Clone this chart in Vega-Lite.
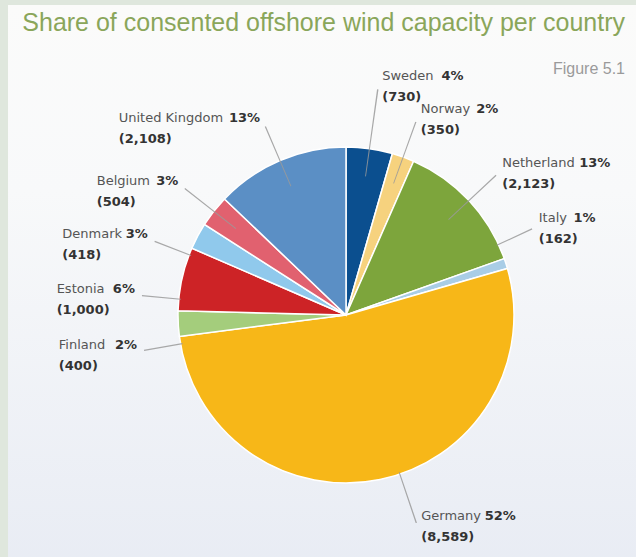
{
  "$schema": "https://vega.github.io/schema/vega-lite/v6.json",
  "width": 676,
  "height": 620,
  "autosize": {"type": "none"},
  "padding": {"left": 8, "top": 5, "right": 0, "bottom": 0},
  "background": "#dfe7dd",
  "config": {
    "view": {"stroke": null},
    "text": {"font": "DejaVu Sans", "fontSize": 13}
  },
  "title": {
    "text": "Share of consented offshore wind capacity per country",
    "subtitle": "Figure 5.1\u00a0\u00a0",
    "anchor": "end",
    "orient": "top",
    "offset": -72,
    "dx": -59,
    "font": "Liberation Sans",
    "fontSize": 25,
    "fontWeight": "normal",
    "color": "#8aa65a",
    "subtitleFont": "Liberation Sans",
    "subtitleFontSize": 16,
    "subtitleColor": "#9a9a9a",
    "subtitlePadding": 25
  },
  "layer": [
    {
      "data": {"values": [{}]},
      "mark": {"type": "rect", "fill": {"gradient": "linear", "x1": 0, "y1": 0, "x2": 0, "y2": 1, "stops": [{"offset": 0, "color": "#fbfbfa"}, {"offset": 0.3, "color": "#f8f9fa"}, {"offset": 1, "color": "#e6eaf3"}]}},
      "encoding": {
        "x": {"value": 0}, "x2": {"value": "width"},
        "y": {"value": 0}, "y2": {"value": "height"}
      }
    },
    {
      "data": {
        "values": [
          {"order": 1, "country": "Sweden", "value": 730, "pct": "4%"},
          {"order": 2, "country": "Norway", "value": 350, "pct": "2%"},
          {"order": 3, "country": "Netherland", "value": 2123, "pct": "13%"},
          {"order": 4, "country": "Italy", "value": 162, "pct": "1%"},
          {"order": 5, "country": "Germany", "value": 8589, "pct": "52%"},
          {"order": 6, "country": "Finland", "value": 400, "pct": "2%"},
          {"order": 7, "country": "Estonia", "value": 1000, "pct": "6%"},
          {"order": 8, "country": "Denmark", "value": 418, "pct": "3%"},
          {"order": 9, "country": "Belgium", "value": 504, "pct": "3%"},
          {"order": 10, "country": "United Kingdom", "value": 2108, "pct": "13%"}
        ]
      },
      "transform": [
        {"joinaggregate": [{"op": "sum", "field": "value", "as": "total"}]},
        {"window": [{"op": "sum", "field": "value", "as": "cum"}], "sort": [{"field": "order"}], "frame": [null, 0]},
        {"calculate": "(datum.cum - datum.value) / datum.total", "as": "start"},
        {"calculate": "datum.cum / datum.total", "as": "end"},
        {"calculate": "(datum.start + datum.end) / 2", "as": "mid"},
        {"calculate": "(datum.mid > 0.19 && datum.mid < 0.84) ? -0.0194 : 0", "as": "shift"},
        {"calculate": "datum.mid + datum.shift", "as": "la"},
        {"calculate": "datum.la - 0.0005", "as": "m0"},
        {"calculate": "datum.la + 0.0005", "as": "m1"},
        {"calculate": "208 + 50 * pow(max(cos(2 * PI * datum.la), 0), 80) + 20 * pow(max(-cos(2 * PI * datum.la), 0), 6)", "as": "lr"},
        {"calculate": "datum.lr - 3", "as": "lr2"},
        {"calculate": "datum.shift < 0 ? 166 : 140", "as": "lr0"},
        {"calculate": "datum.la < 0.5 ? 0 : 4", "as": "ly"},
        {"calculate": "length(replace(datum.country, regexp('[^iltrfjI ]', 'g'), ''))", "as": "nNarrow"},
        {"calculate": "length(replace(datum.country, regexp('[^mwMW]', 'g'), ''))", "as": "nWide"},
        {"calculate": "length(replace(datum.country, regexp('[^A-HJ-LN-VX-Z]', 'g'), ''))", "as": "nCap"},
        {"calculate": "datum.nNarrow * 4.3 + datum.nWide * 11.6 + datum.nCap * 9.3 + (length(datum.country) - datum.nNarrow - datum.nWide - datum.nCap) * 8.2", "as": "nw"},
        {"calculate": "length(datum.pct) * 9.05 + 4", "as": "pw"},
        {"calculate": "datum.la < 0.5 ? 4 : -(datum.nw + 5.5 + datum.pw + 4)", "as": "lx"},
        {"calculate": "'(' + format(datum.value, ',') + ')'", "as": "vlabel"}
      ],
      "layer": [
        {
          "mark": {"type": "arc", "outerRadius": 168, "stroke": "#ffffff", "strokeWidth": 1.5},
          "encoding": {
            "theta": {"field": "start", "type": "quantitative", "scale": {"domain": [0, 1], "range": [0, 6.283185]}},
            "theta2": {"field": "end"},
            "color": {
              "field": "country", "type": "nominal", "legend": null,
              "scale": {
                "domain": ["Sweden", "Norway", "Netherland", "Italy", "Germany", "Finland", "Estonia", "Denmark", "Belgium", "United Kingdom"],
                "range": ["#0b4f8f", "#f6d27e", "#7da53c", "#a9cde6", "#f7b718", "#a4cd7c", "#cd2326", "#90c9ec", "#e1616f", "#5b8fc5"]
              }
            }
          }
        },
        {
          "mark": {"type": "arc", "color": "#9a9a9a", "opacity": 0.85},
          "encoding": {
            "theta": {"field": "m0", "type": "quantitative", "scale": {"domain": [0, 1], "range": [0, 6.283185]}},
            "theta2": {"field": "m1"},
            "radius": {"field": "lr2", "type": "quantitative", "scale": null},
            "radius2": {"field": "lr0"}
          }
        },
        {
          "mark": {"type": "text", "align": "left", "baseline": "middle", "color": "#555555", "dx": {"expr": "datum.lx"}, "dy": {"expr": "datum.ly - 10"}},
          "encoding": {
            "theta": {"field": "la", "type": "quantitative", "stack": null, "scale": {"domain": [0, 1], "range": [0, 6.283185]}},
            "radius": {"field": "lr", "type": "quantitative", "scale": null},
            "text": {"field": "country"}
          }
        },
        {
          "mark": {"type": "text", "align": "left", "baseline": "middle", "color": "#333333", "fontWeight": "bold", "dx": {"expr": "datum.lx + datum.nw + 5.5"}, "dy": {"expr": "datum.ly - 10"}},
          "encoding": {
            "theta": {"field": "la", "type": "quantitative", "stack": null, "scale": {"domain": [0, 1], "range": [0, 6.283185]}},
            "radius": {"field": "lr", "type": "quantitative", "scale": null},
            "text": {"field": "pct"}
          }
        },
        {
          "mark": {"type": "text", "align": "left", "baseline": "middle", "color": "#333333", "fontWeight": "bold", "dx": {"expr": "datum.lx"}, "dy": {"expr": "datum.ly + 11"}},
          "encoding": {
            "theta": {"field": "la", "type": "quantitative", "stack": null, "scale": {"domain": [0, 1], "range": [0, 6.283185]}},
            "radius": {"field": "lr", "type": "quantitative", "scale": null},
            "text": {"field": "vlabel"}
          }
        }
      ]
    }
  ]
}
